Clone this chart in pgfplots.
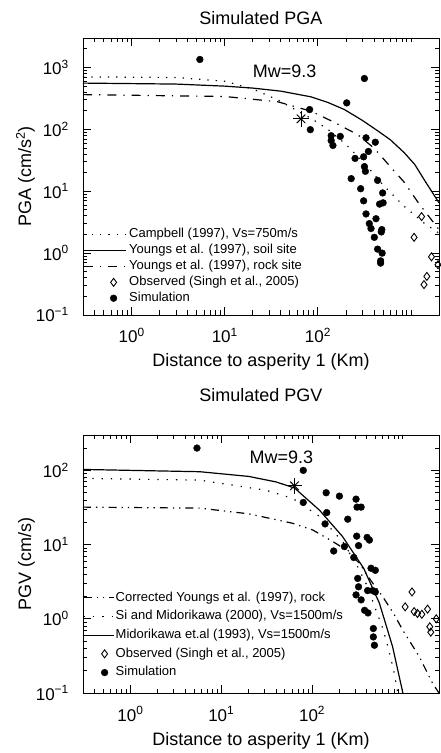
\documentclass[border=0pt]{standalone}
\usepackage{fontspec}
\setmainfont{Liberation Sans}
\usepackage{pgfplots}
\pgfplotsset{compat=1.18}

\tikzset{
  sim/.style={only marks,mark=*,mark size=3.4pt,black},
  obs/.style={only marks,mark=diamond,mark size=4pt,black,line width=0.9pt},
  dotline/.style={black,line width=1.2pt,dash pattern=on 1.3pt off 7pt},
}
\newcommand{\lab}{\fontsize{18}{18}\selectfont}
\newcommand{\tlab}{\fontsize{17}{17}\selectfont}
\newcommand{\legfont}{\fontsize{13}{13}\selectfont}

\begin{document}
\begin{tikzpicture}
\useasboundingbox (0,0) rectangle (440pt,753pt);

% ---------------- PGA ----------------
\begin{axis}[at={(83pt,438pt)}, anchor=south west,
  xmode=log, ymode=log, scale only axis, width=356pt, height=277pt,
  xmin=0.3, xmax=2000, ymin=0.1, ymax=3000,
  tick align=inside, tick pos=both,
  major tick length=8pt, minor tick length=4.5pt,
  every tick/.style={black,line width=0.8pt},
  axis line style={line width=0.9pt},
  xtick={1,10,100},
  xticklabels={\tlab 10\textsuperscript{0},\tlab 10\textsuperscript{1},\tlab 10\textsuperscript{2}},
  minor xtick={0.3,0.4,0.5,0.6,0.7,0.8,0.9,2,3,4,5,6,7,8,9,20,30,40,50,60,70,80,90,200,300,400,500,600,700,800,900,1000},
  xticklabel style={anchor=base,inner sep=0pt,yshift=-28pt},
  yticklabel style={anchor=base east,inner sep=0pt,xshift=-14pt,yshift=-7pt},
  ytick={0.1,1,10,100,1000},
  yticklabels={\tlab 10\textsuperscript{−1},\tlab 10\textsuperscript{0},\tlab 10\textsuperscript{1},\tlab 10\textsuperscript{2},\tlab 10\textsuperscript{3}},
  minor ytick={0.2,0.3,0.4,0.5,0.6,0.7,0.8,0.9,2,3,4,5,6,7,8,9,20,30,40,50,60,70,80,90,200,300,400,500,600,700,800,900,2000,3000},
  title={Simulated PGA},
  title style={at={(axis description cs:0.5,1)},anchor=base,font=\lab,yshift=7.5pt},
  xlabel={Distance to asperity 1 (Km)},
  ylabel={PGA (cm/s\textsuperscript{2})},
  xlabel style={at={(axis description cs:0.5,0)},anchor=base,yshift=-52pt,font=\lab},
  ylabel style={at={(axis description cs:-0.146,0.5)},anchor=base,font=\lab},
  legend cell align=left,
  legend style={draw=none,fill=none,inner sep=0pt,outer sep=0pt,anchor=south west,
    at={(axis description cs:0,0.038)},row sep=3.4pt,column sep=3pt,
    nodes={inner sep=0pt,text height=9.5pt,text depth=3pt}},
  every axis plot/.append style={legend image code/.code={\draw[mark repeat=2,mark phase=2,##1] plot coordinates {(0pt,0pt)(30pt,0pt)(42pt,0pt)};}},
]
\addplot[dotline] coordinates {
(0.3,706) (3,690) (10,600) (20,450) (37,300) (60,200) (85,150) (128,100)
(193,60) (316,28.6) (517,12) (846,5.7) (1384,3.05) (2000,2.1)};
\addlegendentry{\legfont Campbell (1997), Vs=750m/s}
\addplot[black,line width=1.2pt] coordinates {
(0.3,560) (3,540) (10,500) (20,465) (40,415) (85,335) (130,270) (193,209)
(300,140) (438,95) (600,68) (846,42) (1100,27) (1400,15) (2000,6.5)};
\addlegendentry{\legfont Youngs et al. (1997), soil site}
\addplot[black,line width=1.2pt,dash pattern=on 9pt off 7pt on 1.3pt off 7pt] coordinates {
(0.3,365) (10,340) (37,280) (85,196) (150,130) (268,82) (400,50) (561,28)
(846,14) (1200,6.5) (2000,2.4)};
\addlegendentry{\legfont Youngs et al. (1997), rock site}
\addplot[obs] coordinates {
(1300,3.9) (1080,1.8) (1660,0.87) (1480,0.42) (1380,0.31) (1950,0.65)};
\addlegendentry{\legfont Observed (Singh et al., 2005)}
\addplot[sim] coordinates {
(5.4,1350) (316,664) (204,268) (81.5,209) (83,99) (139,79) (139,66) (145,55)
(174,77) (329,73) (414,62) (349,44) (251,34) (310,36) (316,25) (324,21)
(228,16) (438,15) (288,11) (496,9.4) (310,7.0) (460,6.2) (502,6.5) (329,4.3)
(421,3.6) (357,3.0) (372,2.5) (486,2.4) (480,2.2) (404,1.8) (438,1.16)
(490,1.0) (472,0.75) (472,0.69)};
\addlegendentry{\legfont Simulation}
\addplot[forget plot,only marks,mark=+,mark size=8pt,line width=1pt,black] coordinates {(66,148)};
\addplot[forget plot,only marks,mark=x,mark size=6pt,line width=1pt,black] coordinates {(66,148)};
\node[font=\lab] at (axis cs:44,861) {Mw=9.3};
\end{axis}

% ---------------- PGV ----------------
\begin{axis}[at={(83pt,60pt)}, anchor=south west,
  xmode=log, ymode=log, scale only axis, width=356pt, height=258pt,
  xmin=0.3, xmax=2500, ymin=0.1, ymax=300,
  tick align=inside, tick pos=both,
  major tick length=8pt, minor tick length=4.5pt,
  every tick/.style={black,line width=0.8pt},
  axis line style={line width=0.9pt},
  xtick={1,10,100},
  xticklabels={\tlab 10\textsuperscript{0},\tlab 10\textsuperscript{1},\tlab 10\textsuperscript{2}},
  minor xtick={0.3,0.4,0.5,0.6,0.7,0.8,0.9,2,3,4,5,6,7,8,9,20,30,40,50,60,70,80,90,200,300,400,500,600,700,800,900,1000},
  xticklabel style={anchor=base,inner sep=0pt,yshift=-28pt},
  yticklabel style={anchor=base east,inner sep=0pt,xshift=-14pt,yshift=-7pt},
  ytick={0.1,1,10,100},
  yticklabels={\tlab 10\textsuperscript{−1},\tlab 10\textsuperscript{0},\tlab 10\textsuperscript{1},\tlab 10\textsuperscript{2}},
  minor ytick={0.2,0.3,0.4,0.5,0.6,0.7,0.8,0.9,2,3,4,5,6,7,8,9,20,30,40,50,60,70,80,90,200,300},
  title={Simulated PGV},
  title style={at={(axis description cs:0.5,1)},anchor=base,font=\lab,yshift=27.5pt},
  xlabel={Distance to asperity 1 (Km)},
  ylabel={PGV (cm/s)},
  xlabel style={at={(axis description cs:0.5,0)},anchor=base,yshift=-52pt,font=\lab},
  ylabel style={at={(axis description cs:-0.146,0.5)},anchor=base,font=\lab},
  legend cell align=left,
  legend style={draw=none,fill=none,inner sep=0pt,outer sep=0pt,anchor=south west,
    at={(axis description cs:0,0.055)},row sep=6.2pt,column sep=1.5pt,
    nodes={inner sep=0pt,text height=9.5pt,text depth=3pt}},
  every axis plot/.append style={legend image code/.code={\draw[mark repeat=2,mark phase=2,##1] plot coordinates {(0pt,0pt)(21pt,0pt)(30pt,0pt)};}},
]
\addplot[black,line width=1.2pt,dash pattern=on 8pt off 5pt on 1.3pt off 5pt on 1.3pt off 5pt] coordinates {
(0.3,32) (5.8,31) (20,26) (61,19.4) (102,15.7) (169,11) (237,8.5) (332,5.6)
(450,3.2) (598,2.0) (800,1.15) (993,0.71) (1514,0.31) (2125,0.135) (2500,0.1)};
\addlegendentry{\legfont Corrected Youngs et al. (1997), rock}
\addplot[black,line width=1.2pt,dash pattern=on 1.3pt off 8pt] coordinates {
(0.3,78) (5.8,74) (31,54) (61,42) (121,24) (217,11) (300,5.8) (409,2.7)
(506,1.3) (600,0.75) (700,0.38) (800,0.19) (880,0.1)};
\addlegendentry{\legfont Si and Midorikawa (2000), Vs=1500m/s}
\addplot[black,line width=1.2pt] coordinates {
(0.3,103) (5.8,96) (20,83) (40,70) (64,58) (121,29) (217,12.8) (370,4.8)
(552,1.62) (771,0.42) (1000,0.1)};
\addlegendentry{\legfont Midorikawa et.al (1993), Vs=1500m/s}
\addplot[obs] coordinates {
(1260,2.3) (1060,1.45) (1330,1.25) (1450,1.18) (1620,1.15) (1870,1.35)
(1980,0.78) (2030,0.66) (2330,1.0)};
\addlegendentry{\legfont Observed (Singh et al., 2005)}
\addplot[sim] coordinates {
(5.4,200) (80,100) (80,37) (143,50) (200,45) (145,27) (139,19) (305,41)
(313,32) (347,32) (247,22) (310,13) (404,12.5) (428,11.5) (325,9.7) (227,9.4)
(173,8.2) (288,6.7) (446,4.8) (497,4.5) (318,3.5) (325,2.7) (305,2.1) (347,1.8)
(409,2.4) (465,2.4) (497,2.3) (379,1.3) (413,1.2) (473,0.74) (473,0.57) (486,0.44)};
\addlegendentry{\legfont Simulation}
\addplot[forget plot,only marks,mark=+,mark size=8pt,line width=1pt,black] coordinates {(64,62)};
\addplot[forget plot,only marks,mark=x,mark size=6pt,line width=1pt,black] coordinates {(64,62)};
\node[font=\lab] at (axis cs:46,152) {Mw=9.3};
\end{axis}
\end{tikzpicture}
\end{document}
